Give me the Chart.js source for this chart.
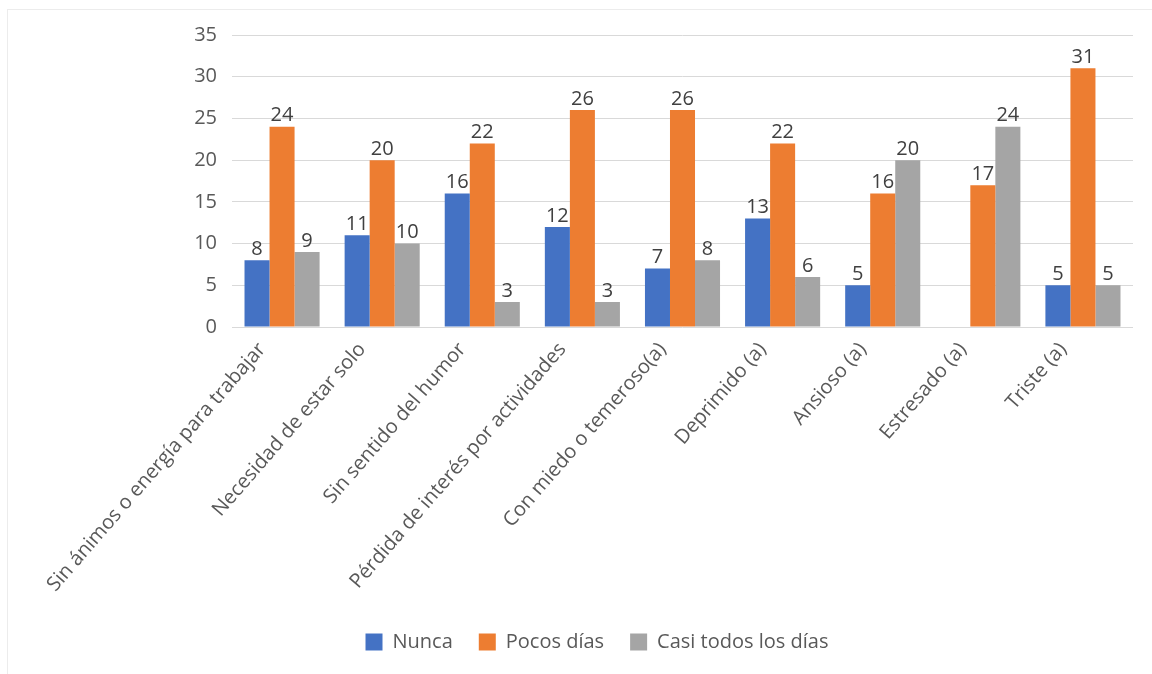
<!DOCTYPE html>
<html>
<head>
<meta charset="utf-8">
<script src="https://cdn.jsdelivr.net/npm/chart.js@4.4.1/dist/chart.umd.min.js"></script>
<style>
  html, body { margin: 0; padding: 0; background: #fff; }
  #wrap { position: relative; width: 1152px; height: 674px; }
  #frame { position: absolute; left: 7px; top: 9px; right: 0; bottom: 0; border-left: 1px solid #ececec; border-top: 1px solid #ececec; }
  canvas { position: absolute; left: 0; top: 0; }
</style>
</head>
<body>
<div id="wrap">
  <div id="frame"></div>
  <canvas id="chart1" width="1152" height="674"></canvas>
</div>
<script>
(function() {

    // categories and series
    const categories = [
      "Sin ánimos o energía para trabajar",
      "Necesidad de estar solo",
      "Sin sentido del humor",
      "Pérdida de interés por actividades",
      "Con miedo o temeroso(a)",
      "Deprimido (a)",
      "Ansioso (a)",
      "Estresado (a)",
      "Triste (a)"
    ]
    const nunca = [8, 11, 16, 12, 7, 13, 5, null, 5]
    const pocosDias = [24, 20, 22, 26, 26, 22, 16, 17, 31]
    const casiTodos = [9, 10, 3, 3, 8, 6, 20, 24, 5]
    const yTicks = [0, 5, 10, 15, 20, 25, 30, 35]

    const textColor = '#595959'
    const family = "'Open Sans', 'Noto Sans', sans-serif"

    // value labels above every bar
    const barLabels = {
      id: 'barLabels',
      afterDatasetsDraw(chart) {
        const ctx = chart.ctx
        ctx.save()
        ctx.font = "20px " + family
        ctx.fillStyle = '#404040'
        ctx.textAlign = 'center'
        ctx.textBaseline = 'bottom'
        chart.data.datasets.forEach((ds, i) => {
          chart.getDatasetMeta(i).data.forEach((bar, j) => {
            const v = ds.data[j]
            if (v === null || v === undefined) return
            ctx.fillText(String(v), bar.x, bar.y - 1)
          })
        })
        ctx.restore()
      }
    }

    new Chart(
      document.getElementById('chart1'),
      {
        type: 'bar',
        data: {
          labels: categories,
          datasets: [
            {label: 'Nunca', data: nunca, backgroundColor: '#4472C4'},
            {label: 'Pocos días', data: pocosDias, backgroundColor: '#ED7D31'},
            {label: 'Casi todos los días', data: casiTodos, backgroundColor: '#A5A5A5'}
          ]
        },
        options: {
          responsive: false,
          animation: false,
          events: [],
          datasets: {
            bar: { categoryPercentage: 0.75, barPercentage: 1.0 }
          },
          // left padding pushes the centred legend to the right
          layout: { padding: { top: 35, right: 19, bottom: 12, left: 61 } },
          scales: {
            x: {
              grid: { display: false },
              border: { display: false },
              ticks: {
                color: textColor,
                font: { family: family, size: 20 },
                minRotation: 49,
                maxRotation: 49,
                autoSkip: false,
                labelOffset: -20
              },
              afterFit(scale) { scale.height = 279 }
            },
            y: {
              min: 0,
              max: 35,
              afterBuildTicks(scale) { scale.ticks = yTicks.map(v => ({value: v})) },
              grid: { color: '#d9d9d9', drawTicks: false },
              border: { display: false },
              ticks: {
                color: textColor,
                font: { family: family, size: 20 },
                padding: 15
              },
              afterFit(scale) { scale.width = 171 }
            }
          },
          plugins: {
            tooltip: { enabled: false },
            legend: {
              position: 'bottom',
              labels: {
                color: textColor,
                font: { family: family, size: 20 },
                boxWidth: 17,
                boxHeight: 17,
                padding: 26
              }
            }
          }
        },
        plugins: [barLabels]
      }
    );

})();
</script>
</body>
</html>
